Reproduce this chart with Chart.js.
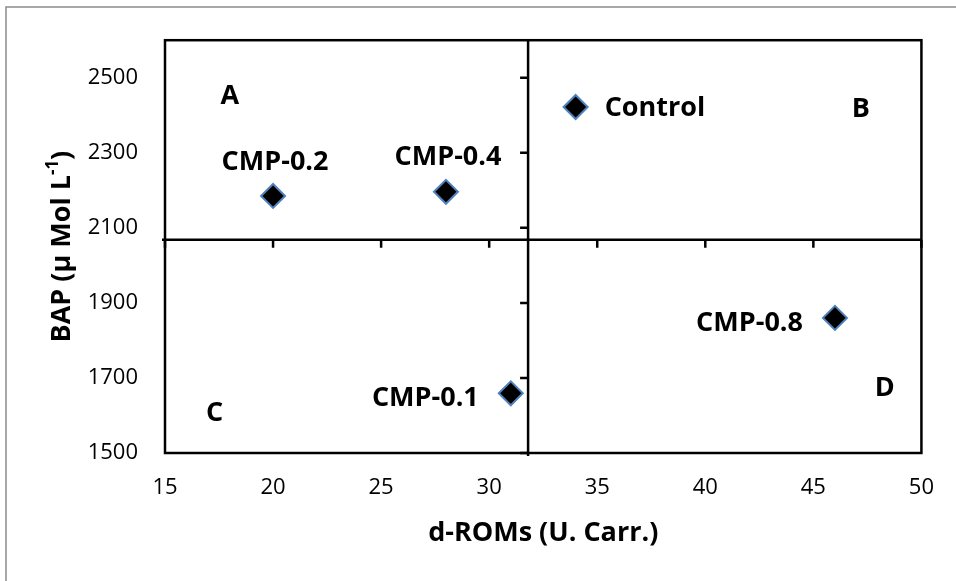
<!DOCTYPE html>
<html>
<head>
<meta charset="utf-8">
<script src="https://cdn.jsdelivr.net/npm/chart.js@4/dist/chart.umd.min.js"></script>
<style>
  html, body { margin: 0; padding: 0; background: #fff; }
  #wrap { width: 956px; height: 581px; }
</style>
</head>
<body>
<div id="wrap"><canvas id="chart" width="956" height="581"></canvas></div>
<script>
// points: d-ROMs (x) against BAP (y)
const names = ['CMP-0.1', 'CMP-0.2', 'CMP-0.4', 'CMP-0.8', 'Control'];
const dRoms = [31, 20, 28, 46, 34];
const bap = [1659, 2185, 2196, 1860, 2422];
const labelSide = ['left', 'top', 'top', 'left', 'right'];

const xTicks = [15, 20, 25, 30, 35, 40, 45, 50];
const yTicks = [1500, 1700, 1900, 2100, 2300, 2500];
const xRange = [15, 50];
const yRange = [1500, 2600];

// where the axes cross (quadrant lines)
const crossX = 31.8;
const crossY = 2068;

// quadrant letters, in data units
const quadNames = ['A', 'B', 'C', 'D'];
const quadX = [18, 47.2, 17.3, 48.3];
const quadY = [2450, 2415, 1607, 1673];

const FONT = '"Open Sans", "Liberation Sans", sans-serif';
const BOLD = 'bold 27px ' + FONT;

const quadrants = {
    id: 'quadrants',
    beforeDatasetsDraw(chart) {
        const { ctx, chartArea: a, scales: { x, y } } = chart;
        ctx.save();
        // grey outer frame (runs off right/bottom)
        ctx.strokeStyle = '#8c8c8c';
        ctx.lineWidth = 1.5;
        ctx.strokeRect(6, 7, 970, 600);

        ctx.strokeStyle = '#000';
        ctx.lineWidth = 2.5;
        ctx.strokeRect(a.left, a.top, a.width, a.height);

        const cx = x.getPixelForValue(crossX);
        const cy = y.getPixelForValue(crossY);
        ctx.beginPath();
        ctx.moveTo(cx, a.top);
        ctx.lineTo(cx, a.bottom + 3);
        ctx.moveTo(a.left - 3, cy);
        ctx.lineTo(a.right, cy);
        xTicks.forEach(v => {
            const px = x.getPixelForValue(v);
            ctx.moveTo(px, cy);
            ctx.lineTo(px, cy + 8);
        });
        yTicks.forEach(v => {
            const py = y.getPixelForValue(v);
            ctx.moveTo(cx, py);
            ctx.lineTo(cx - 8, py);
        });
        ctx.stroke();
        ctx.restore();
    },
    afterDatasetsDraw(chart) {
        const { ctx, chartArea: a, scales: { x, y } } = chart;
        const pts = chart.getDatasetMeta(0).data;
        ctx.save();
        ctx.fillStyle = '#000';
        ctx.font = BOLD;
        ctx.textBaseline = 'middle';

        // point labels
        pts.forEach((p, i) => {
            const side = labelSide[i];
            if (side === 'top') {
                ctx.textAlign = 'center';
                ctx.fillText(names[i], p.x + 2, p.y - 34);
            } else if (side === 'right') {
                ctx.textAlign = 'left';
                ctx.fillText(names[i], p.x + 29, p.y + 1);
            } else {
                ctx.textAlign = 'right';
                ctx.fillText(names[i], p.x - 32, p.y + 5);
            }
        });

        // quadrant letters
        ctx.textAlign = 'center';
        quadNames.forEach((q, i) => {
            ctx.fillText(q, x.getPixelForValue(quadX[i]), y.getPixelForValue(quadY[i]));
        });

        // x axis title
        ctx.fillText('d-ROMs (U. Carr.)', (a.left + a.right) / 2, 533);

        // y axis title with superscript
        const main = 'BAP (\u00b5 Mol L';
        const sup = '-1';
        const end = ')';
        ctx.font = BOLD;
        const w1 = ctx.measureText(main).width;
        const w3 = ctx.measureText(end).width;
        ctx.font = 'bold 17px ' + FONT;
        const w2 = ctx.measureText(sup).width;
        const total = w1 + w2 + w3;
        ctx.translate(62, (a.top + a.bottom) / 2);
        ctx.rotate(-Math.PI / 2);
        ctx.textAlign = 'left';
        ctx.font = BOLD;
        ctx.fillText(main, -total / 2, 0);
        ctx.font = 'bold 17px ' + FONT;
        ctx.fillText(sup, -total / 2 + w1, -9);
        ctx.font = BOLD;
        ctx.fillText(end, -total / 2 + w1 + w2, 0);
        ctx.restore();
    }
};

const ctx = document.getElementById('chart').getContext('2d');
new Chart(ctx, {
    type: 'scatter',
    data: {
        datasets: [{
            label: 'BAP',
            data: dRoms.map((v, i) => ({ x: v, y: bap[i] })),
            pointStyle: 'rectRot',
            pointRadius: 12,
            pointHoverRadius: 12,
            backgroundColor: '#000',
            borderColor: '#4f81bd',
            borderWidth: 2
        }]
    },
    options: {
        responsive: false,
        animation: false,
        devicePixelRatio: 1,
        layout: { padding: { top: 34, right: 33, left: 0, bottom: 0 } },
        plugins: {
            legend: { display: false },
            tooltip: { enabled: false }
        },
        scales: {
            x: {
                type: 'linear',
                min: xRange[0],
                max: xRange[1],
                grid: { display: false, drawTicks: false },
                border: { display: false },
                afterBuildTicks: s => { s.ticks = xTicks.map(v => ({ value: v })); },
                afterFit: s => { s.height = 128; },
                ticks: {
                    padding: 22,
                    color: '#000',
                    font: { family: FONT, size: 22 },
                    callback: v => String(v)
                }
            },
            y: {
                type: 'linear',
                min: yRange[0],
                max: yRange[1],
                grid: { display: false, drawTicks: false },
                border: { display: false },
                afterBuildTicks: s => { s.ticks = yTicks.map(v => ({ value: v })); },
                afterFit: s => { s.width = 165; },
                ticks: {
                    padding: 27,
                    color: '#000',
                    font: { family: FONT, size: 22 },
                    callback: v => String(v)
                }
            }
        }
    },
    plugins: [quadrants]
});
</script>
</body>
</html>
